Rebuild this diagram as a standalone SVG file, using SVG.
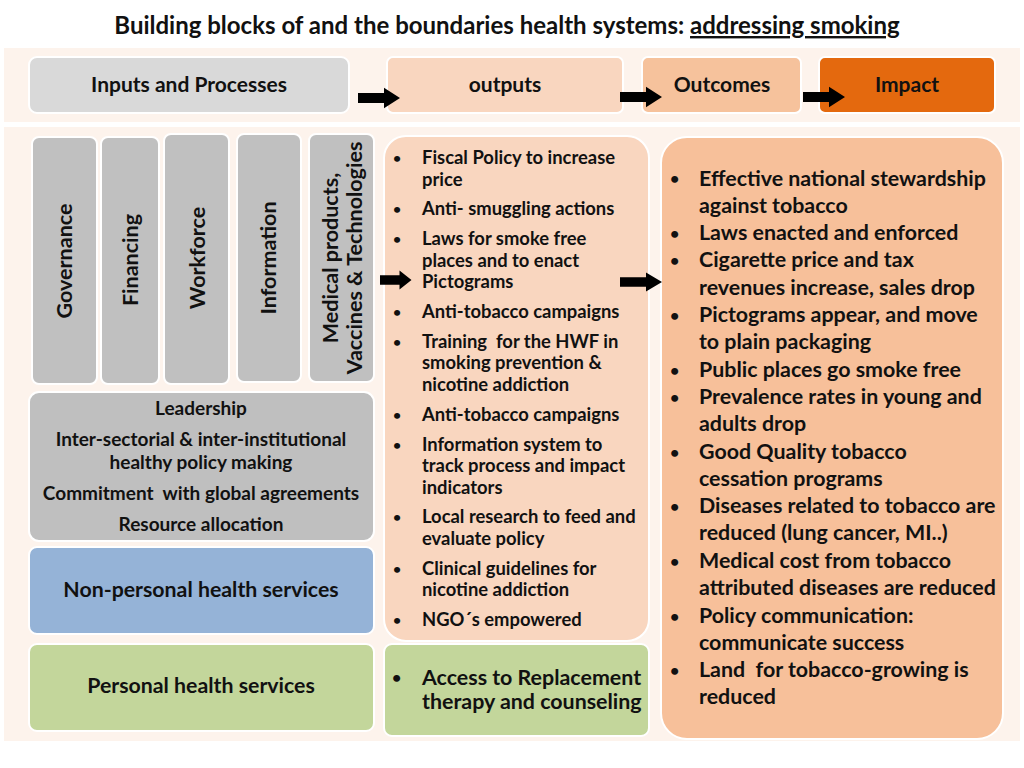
<svg xmlns="http://www.w3.org/2000/svg" width="1024" height="768" viewBox="0 0 1024 768" xml:space="preserve">
<defs>
<style>
text{font-family:Lato,"Open Sans","Liberation Sans",sans-serif;font-weight:bold;fill:#111;white-space:pre}
.hd{font-size:21px;text-anchor:middle}
.col{font-size:21.5px;text-anchor:middle}
.gv{font-size:19px;text-anchor:middle}
.svc{font-size:21.3px;text-anchor:middle}
.mid{font-size:18.4px}
.rt{font-size:21.4px}
.b1{font-size:14px}
.b2{font-size:16px}
.gray{fill:#c0c0c0;stroke:#fff;stroke-width:2}
</style>
<path id="arr" d="M0,-6 H26 V-12 L42,0 L26,12 V6 H0 Z" fill="#000"/>
</defs>
<rect width="1024" height="768" fill="#fff"/>
<text x="507" y="34" font-size="24" text-anchor="middle">Building blocks of and the boundaries health systems: <tspan text-decoration="underline">addressing smoking</tspan></text>
<rect x="4" y="48" width="1016" height="74" fill="#fdf3ec"/>
<rect x="4" y="127" width="1016" height="614" fill="#fdf3ec"/>

<g id="hdr-inputs"><rect x="29" y="57" width="320" height="56" rx="8" fill="#d9d9d9" stroke="#fff" stroke-width="2"/><text class="hd" x="189" y="92">Inputs and Processes</text></g>
<g id="hdr-outputs"><rect x="387" y="57" width="236" height="56" rx="6" fill="#f9d6bf" stroke="#fff" stroke-width="2"/><text class="hd" x="505" y="92">outputs</text></g>
<g id="hdr-outcomes"><rect x="642" y="57" width="159" height="56" rx="6" fill="#f6c29c" stroke="#fff" stroke-width="2"/><text class="hd" x="722" y="92">Outcomes</text></g>
<g id="hdr-impact"><rect x="819" y="57" width="176" height="56" rx="6" fill="#e4690e" stroke="#fff" stroke-width="2"/><text class="hd" x="907" y="92">Impact</text></g>

<g id="col-governance"><rect class="gray" x="32" y="137" width="65" height="247" rx="7"/><text class="col" transform="translate(64,261) rotate(-90)" x="0" y="8">Governance</text></g>
<g id="col-financing"><rect class="gray" x="101" y="137" width="58" height="247" rx="7"/><text class="col" transform="translate(130,260) rotate(-90)" x="0" y="8">Financing</text></g>
<g id="col-workforce"><rect class="gray" x="164" y="134" width="65" height="250" rx="7"/><text class="col" transform="translate(197,258) rotate(-90)" x="0" y="8">Workforce</text></g>
<g id="col-information"><rect class="gray" x="237" y="134" width="64" height="248" rx="7"/><text class="col" transform="translate(268,258) rotate(-90)" x="0" y="8">Information</text></g>
<g id="col-medical"><rect class="gray" x="309" y="134" width="65" height="248" rx="7"/><text class="col" transform="translate(342,258) rotate(-90)"><tspan x="0" y="-4">Medical products,</tspan><tspan x="0" y="20">Vaccines &amp; Technologies</tspan></text></g>

<g id="governance-detail"><rect x="29" y="392" width="345" height="149" rx="10" fill="#bfbfbf" stroke="#fff" stroke-width="2"/>
<text class="gv" x="201" y="415">Leadership</text>
<text class="gv" x="201" y="446">Inter-sectorial &amp; inter-institutional</text>
<text class="gv" x="201" y="469">healthy policy making</text>
<text class="gv" x="201" y="500">Commitment  with global agreements</text>
<text class="gv" x="201" y="531">Resource allocation</text></g>
<g id="nonpersonal"><rect x="29" y="547" width="345" height="87" rx="8" fill="#95b3d7" stroke="#fff" stroke-width="2"/><text class="svc" x="201" y="597">Non-personal health services</text></g>
<g id="personal"><rect x="29" y="644" width="345" height="87" rx="8" fill="#c3d69b" stroke="#fff" stroke-width="2"/><text class="svc" x="201" y="693">Personal health services</text></g>

<g id="outputs-list"><rect x="384" y="136" width="265" height="505" rx="22" fill="#f9d6bf" stroke="#fff" stroke-width="2"/>
<g class="b1"><text x="393" y="163">•</text><text x="393" y="214">•</text><text x="393" y="244">•</text><text x="393" y="317">•</text><text x="393" y="347">•</text><text x="393" y="420">•</text><text x="393" y="450">•</text><text x="393" y="522">•</text><text x="393" y="574">•</text><text x="393" y="625">•</text></g>
<g class="mid">
<text x="422" y="164">Fiscal Policy to increase</text>
<text x="422" y="186">price</text>
<text x="422" y="215">Anti- smuggling actions</text>
<text x="422" y="245">Laws for smoke free</text>
<text x="422" y="267">places and to enact</text>
<text x="422" y="288">Pictograms</text>
<text x="422" y="318">Anti-tobacco campaigns</text>
<text x="422" y="348">Training  for the HWF in</text>
<text x="422" y="369">smoking prevention &amp;</text>
<text x="422" y="391">nicotine addiction</text>
<text x="422" y="421">Anti-tobacco campaigns</text>
<text x="422" y="451">Information system to</text>
<text x="422" y="472">track process and impact</text>
<text x="422" y="494">indicators</text>
<text x="422" y="523">Local research to feed and</text>
<text x="422" y="545">evaluate policy</text>
<text x="422" y="575">Clinical guidelines for</text>
<text x="422" y="596">nicotine addiction</text>
<text x="422" y="626">NGO´s empowered</text>
</g></g>
<g id="outputs-personal"><rect x="384" y="644" width="265" height="92" rx="8" fill="#c3d69b" stroke="#fff" stroke-width="2"/>
<text class="b2" x="392" y="683">•</text>
<text class="rt" x="422" y="685">Access to Replacement</text>
<text class="rt" x="422" y="709">therapy and counseling</text></g>

<g id="outcomes-list"><rect x="661" y="137" width="342" height="602" rx="26" fill="#f7c09a" stroke="#fff" stroke-width="2"/>
<g class="b2">
<text x="670" y="184">•</text><text x="670" y="239">•</text><text x="670" y="266">•</text><text x="670" y="321">•</text><text x="670" y="376">•</text><text x="670" y="403">•</text><text x="670" y="458">•</text><text x="670" y="512">•</text><text x="670" y="567">•</text><text x="670" y="622">•</text><text x="670" y="676">•</text></g>
<g class="rt">
<text x="699" y="186">Effective national stewardship</text>
<text x="699" y="213">against tobacco</text>
<text x="699" y="240">Laws enacted and enforced</text>
<text x="699" y="267">Cigarette price and tax</text>
<text x="699" y="295">revenues increase, sales drop</text>
<text x="699" y="322">Pictograms appear, and move</text>
<text x="699" y="349">to plain packaging</text>
<text x="699" y="377">Public places go smoke free</text>
<text x="699" y="404">Prevalence rates in young and</text>
<text x="699" y="431">adults drop</text>
<text x="699" y="459">Good Quality tobacco</text>
<text x="699" y="486">cessation programs</text>
<text x="699" y="513">Diseases related to tobacco are</text>
<text x="699" y="540">reduced (lung cancer, MI..)</text>
<text x="699" y="568">Medical cost from tobacco</text>
<text x="699" y="595">attributed diseases are reduced</text>
<text x="699" y="623">Policy communication:</text>
<text x="699" y="650">communicate success</text>
<text x="699" y="677">Land  for tobacco-growing is</text>
<text x="699" y="704">reduced</text>
</g></g>

<g id="connectors">
<use href="#arr" transform="translate(358,98) scale(1,0.85)"/>
<use href="#arr" transform="translate(620,97) scale(1,0.85)"/>
<use href="#arr" transform="translate(803,97) scale(1,0.85)"/>
<use href="#arr" transform="translate(380,280) scale(0.75,0.8)"/>
<use href="#arr" transform="translate(620,282) scale(1,0.8)"/>
</g>
</svg>
